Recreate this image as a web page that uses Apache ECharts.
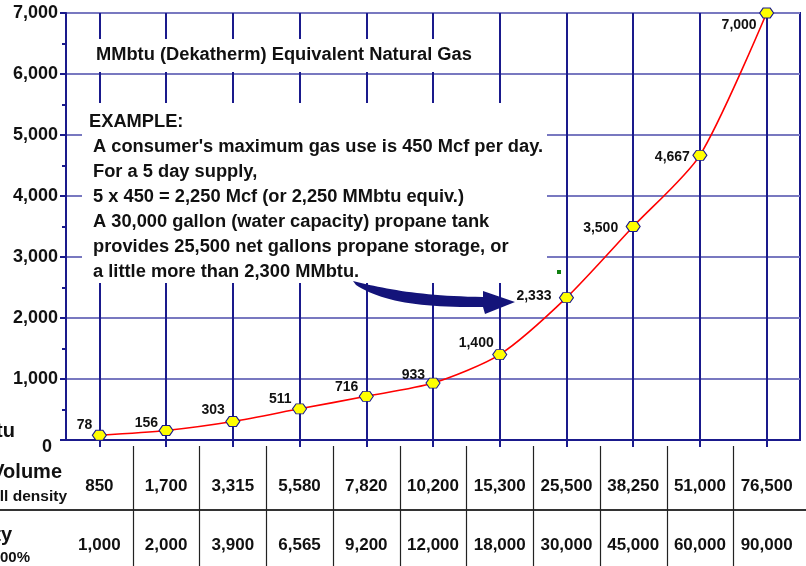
<!DOCTYPE html>
<html>
<head>
<meta charset="utf-8">
<script src="https://cdn.jsdelivr.net/npm/echarts@6/dist/echarts.min.js"></script>
<style>
html,body{margin:0;padding:0;background:#fff;}
#c{width:806px;height:566px;}
</style>
</head>
<body>
<div id="c"></div>
<script>
// ---- data ----
const volumeLabels = ['850','1,700','3,315','5,580','7,820','10,200','15,300','25,500','38,250','51,000','76,500'];
const capacityLabels = ['1,000','2,000','3,900','6,565','9,200','12,000','18,000','30,000','45,000','60,000','90,000'];
const mmbtuValues = [78,156,303,511,716,933,1400,2333,3500,4667,7000];
const yMin = 0, yMax = 7000, yStep = 1000;

const titleText = 'MMbtu (Dekatherm) Equivalent Natural Gas';
const exampleHead = 'EXAMPLE:';
const exampleLines = [
  "A consumer's maximum gas use is 450 Mcf per day.",
  'For a 5 day supply,',
  '5 x 450 = 2,250 Mcf (or 2,250 MMbtu equiv.)',
  'A 30,000 gallon (water capacity) propane tank',
  'provides 25,500 net gallons propane storage, or',
  'a little more than 2,300 MMbtu.'
];

// label offset style (not data)
const labelOffsets = [[-7,-10],[-8,-7],[-8,-11],[-8,-10],[-8,-9],[-8,-8],[-6,-11],[-15,-2],[-15,2],[-10,2],[-10,12]];

const FONT = 'Liberation Sans, Arial, sans-serif';
const NAVY = '#1a1a8c';
const fmt = v => String(v).replace(/\B(?=(\d{3})+(?!\d))/g, ',');

const chart = echarts.init(document.getElementById('c'), null, {renderer:'canvas', width:806, height:566});

const hexPath = 'path://M3,0 L9,0 L12,4 L9,8 L3,8 L0,4 Z';

const option = {
  animation: false,
  backgroundColor: '#ffffff',
  grid: {left: 66, right: 6, top: 13, bottom: 126, show: true, borderColor: NAVY, borderWidth: 2, backgroundColor: 'transparent'},
  xAxis: [
    {
      type: 'category', data: volumeLabels, boundaryGap: true, position: 'bottom',
      axisLine: {show: true, lineStyle: {color: NAVY, width: 2}},
      axisTick: {show: true, alignWithLabel: true, length: 7, lineStyle: {color: NAVY, width: 2}},
      axisLabel: {margin: 38, color: '#111', fontFamily: FONT, fontWeight: 'bold', fontSize: 17, interval: 0},
      splitLine: {show: false}
    },
    {
      type: 'category', data: capacityLabels, boundaryGap: true, position: 'bottom',
      axisLine: {show: false}, axisTick: {show: false},
      axisLabel: {margin: 97, color: '#111', fontFamily: FONT, fontWeight: 'bold', fontSize: 17, interval: 0},
      splitLine: {show: false}
    }
  ],
  yAxis: {
    type: 'value', min: yMin, max: yMax, interval: yStep,
    axisLine: {show: true, lineStyle: {color: NAVY, width: 2}},
    axisTick: {show: true, length: 6, lineStyle: {color: NAVY, width: 2}},
    minorTick: {show: true, splitNumber: 2, length: 4, lineStyle: {color: NAVY, width: 2}},
    splitLine: {show: true, lineStyle: {color: '#7878c0', width: 2}},
    axisLabel: {
      margin: 8, color: '#111', fontFamily: FONT, fontWeight: 'bold', fontSize: 18,
      formatter: v => v === 0 ? '{z|0}' : fmt(v),
      rich: {z: {fontFamily: FONT, fontWeight: 'bold', fontSize: 18, color: '#111', padding: [14, 6, 0, 0]}}
    }
  },
  series: [{
    type: 'line',
    xAxisIndex: 0,
    data: mmbtuValues.map((v, i) => ({
      value: v,
      label: {offset: labelOffsets[i]}
    })),
    smooth: 0.25,
    lineStyle: {color: '#ff0000', width: 1.6},
    symbol: hexPath,
    symbolSize: [14, 10],
    itemStyle: {color: '#ffff00', borderColor: NAVY, borderWidth: 1},
    label: {
      show: true, position: 'inside', align: 'right', verticalAlign: 'middle',
      formatter: p => fmt(p.value), color: '#111', fontFamily: FONT, fontWeight: 'bold', fontSize: 14
    },
    z: 5,
    markLine: {
      silent: true, symbol: ['none', 'none'], animation: false,
      label: {show: false},
      lineStyle: {color: NAVY, width: 2, type: 'solid'},
      data: volumeLabels.map(c => ({xAxis: c}))
    }
  }]
};
chart.setOption(option);

// ---- annotations ----
function bez(p0, p1, p2, p3, n) {
  const pts = [];
  for (let k = 0; k <= n; k++) {
    const t = k / n, u = 1 - t;
    pts.push([
      u*u*u*p0[0] + 3*u*u*t*p1[0] + 3*u*t*t*p2[0] + t*t*t*p3[0],
      u*u*u*p0[1] + 3*u*u*t*p1[1] + 3*u*t*t*p2[1] + t*t*t*p3[1]
    ]);
  }
  return pts;
}
const arrowPts = []
  .concat(bez([353,281],[385,289],[420,296],[483,297],24))
  .concat([[483,291],[515,302],[485,314],[483,307]])
  .concat(bez([483,307],[420,308],[380,301],[356,285],24));

const g = [];
g.push({type:'rect', shape:{x:84, y:39, width:404, height:33}, style:{fill:'#fff'}, z:50});
g.push({type:'rect', shape:{x:82, y:103, width:465, height:180}, style:{fill:'#fff'}, z:50});
g.push({type:'text', x:96, y:55, style:{text:titleText, font:'bold 18.3px '+FONT, fill:'#111', textVerticalAlign:'middle'}, z:60});
g.push({type:'text', x:89, y:122, style:{text:exampleHead, font:'bold 18.3px '+FONT, fill:'#111', textVerticalAlign:'middle'}, z:60});
exampleLines.forEach((t, i) => {
  g.push({type:'text', x:93, y:147 + i*25, style:{text:t, font:'bold 18.3px '+FONT, fill:'#111', textVerticalAlign:'middle'}, z:60});
});
// arrow
g.push({type:'polygon', shape:{points: arrowPts}, style:{fill:'#14147a'}, z:60});
// small green mark
g.push({type:'rect', shape:{x:557, y:270, width:4, height:4}, style:{fill:'#108010'}, z:60});
// left cropped labels
g.push({type:'text', x:15, y:431, style:{text:'MMbtu', font:'bold 20px '+FONT, fill:'#111', textAlign:'right', textVerticalAlign:'middle'}, z:60});
g.push({type:'text', x:62, y:472, style:{text:'Volume', font:'bold 20px '+FONT, fill:'#111', textAlign:'right', textVerticalAlign:'middle'}, z:60});
g.push({type:'text', x:67, y:497, style:{text:'at 80% fill density', font:'bold 15.5px '+FONT, fill:'#111', textAlign:'right', textVerticalAlign:'middle'}, z:60});
g.push({type:'text', x:12, y:535, style:{text:'Capacity', font:'bold 20px '+FONT, fill:'#111', textAlign:'right', textVerticalAlign:'middle'}, z:60});
g.push({type:'text', x:30, y:558, style:{text:'at 100%', font:'bold 15px '+FONT, fill:'#111', textAlign:'right', textVerticalAlign:'middle'}, z:60});
// table lines
g.push({type:'line', shape:{x1:0, y1:510, x2:806, y2:510}, style:{stroke:'#333', lineWidth:2}, z:40});
for (let i = 0; i < volumeLabels.length - 1; i++) {
  const a = chart.convertToPixel({xAxisIndex:0}, volumeLabels[i]);
  const b = chart.convertToPixel({xAxisIndex:0}, volumeLabels[i+1]);
  const x = Math.round((a + b) / 2) + 0.5;
  g.push({type:'line', shape:{x1:x, y1:446, x2:x, y2:566}, style:{stroke:'#222', lineWidth:1.2}, z:40});
}
chart.setOption({graphic: g});
</script>
</body>
</html>
